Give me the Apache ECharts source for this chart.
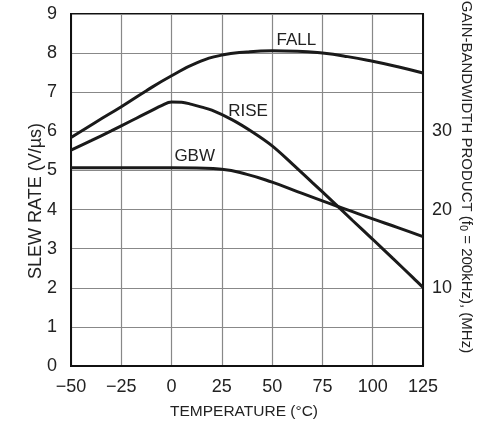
<!DOCTYPE html>
<html>
<head>
<meta charset="utf-8">
<script src="https://cdn.jsdelivr.net/npm/echarts@6/dist/echarts.min.js"></script>
<style>
html,body{margin:0;padding:0;background:#fff;}
#c{width:497px;height:425px;}
</style>
</head>
<body>
<div id="c"></div>
<script>
const temps = [-50, -37.5, -25, -12.5, 0, 12.5, 25, 37.5, 50, 62.5, 75, 87.5, 100, 112.5, 125];
const fallRate = [5.84, 6.24, 6.63, 7.04, 7.42, 7.75, 7.95, 8.03, 8.06, 8.05, 8.00, 7.91, 7.79, 7.65, 7.49];
const riseTemps = [-50, -40, -30, -20, -15, -10, -5, 0, 5, 10, 15, 20, 30, 40, 50, 60, 70, 80, 90, 100, 110, 120, 125];
const riseRate = [5.52, 5.76, 6.01, 6.27, 6.40, 6.53, 6.66, 6.75, 6.745, 6.69, 6.62, 6.54, 6.30, 5.99, 5.63, 5.17, 4.69, 4.21, 3.72, 3.24, 2.75, 2.26, 2.01];
const gbwMHz = [25.35, 25.35, 25.35, 25.35, 25.35, 25.3, 25.15, 24.5, 23.5, 22.3, 21.1, 19.95, 18.8, 17.7, 16.55];
const xTicks = [-50, -25, 0, 25, 50, 75, 100, 125];
const leftTicks = [0, 1, 2, 3, 4, 5, 6, 7, 8, 9];
const rightTicks = [10, 20, 30];
const curveLabels = [
  {name: 'FALL', t: 62, v: 8.34},
  {name: 'RISE', t: 38, v: 6.5},
  {name: 'GBW', t: 11.5, v: 26.75}
];

const FONT = "'Liberation Sans', Arial, sans-serif";
const pair = (xs, ys) => xs.map((x, i) => [x, ys[i]]);
const lbl = (n) => { const c = curveLabels.find(l => l.name === n); return {
  symbol: 'rect', symbolSize: 2, silent: true,
  itemStyle: {color: 'rgba(0,0,0,0)'},
  label: {show: true, position: 'inside', formatter: n, color: '#222', fontSize: 17, fontFamily: FONT},
  data: [{coord: [c.t, c.v]}]
}; };

const chart = echarts.init(document.getElementById('c'), null, {renderer: 'canvas'});
chart.setOption({
  animation: false,
  grid: {left: 71, top: 14, right: 74, bottom: 59, show: true, borderColor: '#111', borderWidth: 2, backgroundColor: 'transparent'},
  xAxis: {
    type: 'value', min: -50, max: 125, interval: 25,
    axisLine: {show: true, onZero: false, lineStyle: {color: '#111', width: 2}},
    axisTick: {show: false},
    splitLine: {show: true, lineStyle: {color: '#888', width: 1.2}},
    axisLabel: {color: '#222', fontSize: 18, fontFamily: FONT, margin: 12,
      formatter: v => xTicks.includes(v) ? String(v).replace('-', '\u2212') : ''}
  },
  yAxis: [{
    type: 'value', min: 0, max: 9, interval: 1,
    axisLine: {show: true, onZero: false, lineStyle: {color: '#111', width: 2}},
    axisTick: {show: false},
    splitLine: {show: true, lineStyle: {color: '#888', width: 1.2}},
    axisLabel: {color: '#222', fontSize: 18, fontFamily: FONT, margin: 14,
      formatter: v => leftTicks.includes(v) ? String(v) : ''}
  }, {
    type: 'value', min: 0, max: 45, interval: 5, position: 'right',
    axisLine: {show: true, onZero: false, lineStyle: {color: '#111', width: 2}},
    axisTick: {show: false},
    splitLine: {show: false},
    axisLabel: {color: '#222', fontSize: 18, fontFamily: FONT, margin: 9,
      formatter: v => rightTicks.includes(v) ? String(v) : ''}
  }],
  graphic: [
    {type: 'text', x: 244, y: 404,
     style: {text: 'TEMPERATURE (°C)', fill: '#222', font: '15.5px ' + FONT, align: 'center', verticalAlign: 'top'}},
    {type: 'text', x: 27, y: 201, rotation: Math.PI / 2,
     style: {text: 'SLEW RATE (V/µs)', fill: '#222', font: '18px ' + FONT, align: 'center', verticalAlign: 'top'}},
    {type: 'text', x: 475, y: 177, rotation: -Math.PI / 2,
     style: {
       text: '{a|GAIN-BANDWIDTH PRODUCT (f}{s|0}{a| = 200kHz), (MHz)}',
       align: 'center', verticalAlign: 'top',
       rich: {
         a: {fill: '#222', fontSize: 15, fontFamily: FONT},
         s: {fill: '#222', fontSize: 11, fontFamily: FONT, padding: [6, 0, 0, 0]}
       }
     }}
  ],
  series: [
    {name: 'FALL', type: 'line', data: pair(temps, fallRate), smooth: true, symbol: 'none',
     lineStyle: {color: '#1a1a1a', width: 3}, markPoint: lbl('FALL')},
    {name: 'RISE', type: 'line', data: pair(riseTemps, riseRate), smooth: 0.35, symbol: 'none',
     lineStyle: {color: '#1a1a1a', width: 3}, markPoint: lbl('RISE')},
    {name: 'GBW', type: 'line', yAxisIndex: 1, data: pair(temps, gbwMHz), smooth: true, symbol: 'none',
     lineStyle: {color: '#1a1a1a', width: 3}, markPoint: lbl('GBW')}
  ]
});
</script>
</body>
</html>
